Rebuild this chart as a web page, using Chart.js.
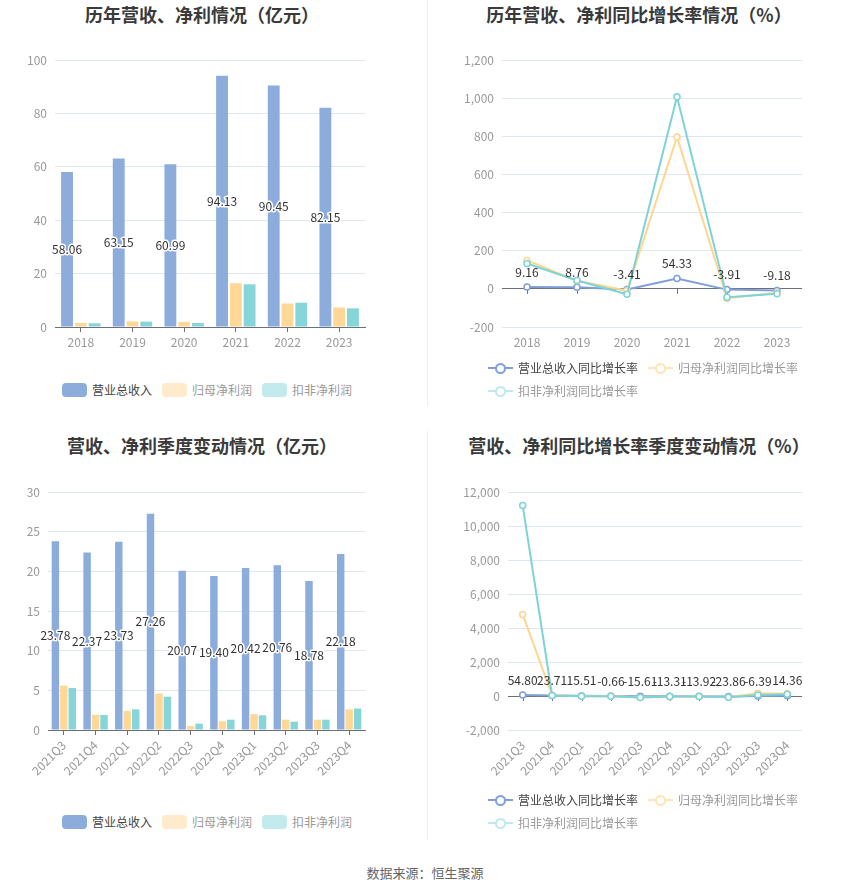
<!DOCTYPE html>
<html>
<head>
<meta charset="utf-8">
<script src="https://cdn.jsdelivr.net/npm/chart.js@4.4.0/dist/chart.umd.min.js"></script>
<style>
  body { margin:0; width:850px; height:891px; background:#fff; position:relative; overflow:hidden;
         font-family:"Noto Sans CJK SC","Noto Sans",sans-serif; }
  .title { position:absolute; font-size:18px; font-weight:bold; color:#3a3a3a; white-space:nowrap;
           transform:translate(-50%,-50%); line-height:20px; }
  canvas { position:absolute; }
  .divider { position:absolute; left:427px; width:1px; background:#eee; }
  .legend { position:absolute; display:flex; flex-wrap:wrap; font-size:12px; }
  .item { display:flex; align-items:center; height:23px; margin-right:10px; white-space:nowrap; }
  .item span.txt { margin-left:5px; line-height:14px; }
  .box { width:25px; height:14px; border-radius:4px; }
  .ln { width:25px; height:14px; position:relative; }
  .ln::before { content:''; position:absolute; left:0; top:6px; width:25px; height:2px; background:var(--c); }
  .ln::after { content:''; position:absolute; left:7px; top:2px; width:7px; height:7px; border:2px solid var(--c);
               border-radius:50%; background:#fff; }
  .source { position:absolute; left:425px; top:872px; transform:translate(-50%,-50%); font-size:13px; color:#666; }
</style>
</head>
<body>
<div class="divider" style="top:0;height:406px"></div>
<div class="divider" style="top:431px;height:409px"></div>

<div class="title" style="left:202px;top:14px">历年营收、净利情况（亿元）</div>
<div class="title" style="left:639px;top:14px">历年营收、净利同比增长率情况（%）</div>
<div class="title" style="left:202px;top:445px">营收、净利季度变动情况（亿元）</div>
<div class="title" style="left:639px;top:445px">营收、净利同比增长率季度变动情况（%）</div>

<canvas id="c1" width="425" height="325" style="left:0;top:35px"></canvas>
<canvas id="c2" width="425" height="325" style="left:425px;top:35px"></canvas>
<canvas id="c3" width="425" height="320" style="left:0;top:470px"></canvas>
<canvas id="c4" width="425" height="320" style="left:425px;top:470px"></canvas>

<div class="legend" style="left:62px;top:378px">
  <div class="item"><div class="box" style="background:#8CACDB"></div><span class="txt" style="color:#444">营业总收入</span></div>
  <div class="item"><div class="box" style="background:#FFEBCC"></div><span class="txt" style="color:#999">归母净利润</span></div>
  <div class="item"><div class="box" style="background:#C3EAEC"></div><span class="txt" style="color:#999">扣非净利润</span></div>
</div>
<div class="legend" style="left:488px;top:356px;width:330px">
  <div class="item"><div class="ln" style="--c:#7F9FDB"></div><span class="txt" style="color:#444">营业总收入同比增长率</span></div>
  <div class="item"><div class="ln" style="--c:#FFE4B8"></div><span class="txt" style="color:#999">归母净利润同比增长率</span></div>
  <div class="item"><div class="ln" style="--c:#BFE9EB"></div><span class="txt" style="color:#999">扣非净利润同比增长率</span></div>
</div>
<div class="legend" style="left:62px;top:810px">
  <div class="item"><div class="box" style="background:#8CACDB"></div><span class="txt" style="color:#444">营业总收入</span></div>
  <div class="item"><div class="box" style="background:#FFEBCC"></div><span class="txt" style="color:#999">归母净利润</span></div>
  <div class="item"><div class="box" style="background:#C3EAEC"></div><span class="txt" style="color:#999">扣非净利润</span></div>
</div>
<div class="legend" style="left:488px;top:788px;width:330px">
  <div class="item"><div class="ln" style="--c:#7F9FDB"></div><span class="txt" style="color:#444">营业总收入同比增长率</span></div>
  <div class="item"><div class="ln" style="--c:#FFE4B8"></div><span class="txt" style="color:#999">归母净利润同比增长率</span></div>
  <div class="item"><div class="ln" style="--c:#BFE9EB"></div><span class="txt" style="color:#999">扣非净利润同比增长率</span></div>
</div>

<div class="source">数据来源：恒生聚源</div>

<script>
/* ── data ── */
const years    = ['2018', '2019', '2020', '2021', '2022', '2023'];
const revYear  = [58.06, 63.15, 60.99, 94.13, 90.45, 82.15];
const netYear  = [1.5, 2.1, 1.9, 16.4, 8.8, 7.3];
const dedYear  = [1.4, 2.0, 1.5, 16.0, 9.1, 7.0];

const revYearG = [9.16, 8.76, -3.41, 54.33, -3.91, -9.18];
const netYearG = [149, 42, -10, 796, -49, -21];
const dedYearG = [133, 44, -28, 1007, -44, -26];

const quarters = ['2021Q3', '2021Q4', '2022Q1', '2022Q2', '2022Q3', '2022Q4', '2023Q1', '2023Q2', '2023Q3', '2023Q4'];
const revQ     = [23.78, 22.37, 23.73, 27.26, 20.07, 19.40, 20.42, 20.76, 18.78, 22.18];
const netQ     = [5.6, 1.9, 2.4, 4.6, 0.5, 1.1, 2.0, 1.3, 1.3, 2.6];
const dedQ     = [5.3, 1.9, 2.6, 4.2, 0.8, 1.3, 1.85, 1.05, 1.3, 2.7];

const revQG    = [54.80, 23.71, 15.51, -0.66, -15.61, -13.31, -13.92, -23.86, -6.39, 14.36];
const netQG    = [4800, 45, -20, 5, -91, -42, -17, -72, 160, 136];
const dedQG    = [11200, 30, -10, -20, -85, -32, -29, -75, 62, 108];

/* ── styling ── */
const FONT = '"Noto Sans CJK SC", "Noto Sans", sans-serif';
const GRID = '#E0E6F1', AXIS = '#6E7079', LABEL = '#999';
const C_REV = '#8CACDB', C_NET = '#FFD797', C_DED = '#86D5D8';
const L_REV = '#7F9FDB', L_NET = '#FFD58F', L_DED = '#7DD3D6';

/* value labels on the first series */
const valueLabels = {
  id: 'valueLabels',
  afterDatasetsDraw(chart, args, opts) {
    if (!opts || !opts.mode) return;
    const meta = chart.getDatasetMeta(0);
    const data = chart.data.datasets[0].data;
    const ctx  = chart.ctx;
    ctx.save();
    ctx.font = '12px ' + FONT;
    ctx.textAlign = 'center';
    ctx.textBaseline = 'middle';
    meta.data.forEach((el, i) => {
      const txt = data[i].toFixed(2);
      if (opts.mode === 'middle') {
        const y = (el.y + el.base) / 2;
        ctx.lineWidth = 3; ctx.lineJoin = 'round'; ctx.strokeStyle = '#fff';
        ctx.strokeText(txt, el.x, y);
        ctx.fillStyle = '#333';
        ctx.fillText(txt, el.x, y);
      } else {
        ctx.fillStyle = '#333';
        ctx.fillText(txt, el.x, el.y - 15);
      }
    });
    ctx.restore();
  }
};

/* small tick marks hanging off the zero line */
const zeroTicks = {
  id: 'zeroTicks',
  beforeDatasetsDraw(chart, args, opts) {
    if (!opts || !opts.on) return;
    const x = chart.scales.x, y0 = chart.scales.y.getPixelForValue(0);
    const ctx = chart.ctx;
    ctx.save();
    ctx.strokeStyle = AXIS; ctx.lineWidth = 1;
    x.ticks.forEach((t, i) => {
      const px = Math.round(x.getPixelForTick(i)) + 0.5;
      ctx.beginPath(); ctx.moveTo(px, y0); ctx.lineTo(px, y0 + 5); ctx.stroke();
    });
    ctx.restore();
  }
};
Chart.register(valueLabels, zeroTicks);

function opts(box, yr, labelMode) {
  return {
    responsive: false, animation: false,
    layout: { padding: { top: box.top, right: box.right, left: 0, bottom: 0 } },
    plugins: {
      legend: { display: false }, tooltip: { enabled: false },
      valueLabels: { mode: labelMode },
      zeroTicks: { on: !!box.zeroMid }
    },
    scales: {
      x: {
        offset: true,
        grid: { offset: false, drawOnChartArea: false, tickLength: 5, color: box.zeroMid ? 'rgba(0,0,0,0)' : AXIS },
        border: { display: !box.zeroMid, color: AXIS },
        ticks: { color: LABEL, font: { size: 12, family: FONT }, padding: 3,
                 autoSkip: false, maxRotation: box.rot, minRotation: box.rot },
        afterFit: s => { s.height = box.xh; }
      },
      y: {
        min: yr[0], max: yr[1],
        ticks: { stepSize: yr[2], color: LABEL, font: { size: 12, family: FONT }, padding: 8 },
        grid: { drawTicks: false, color: c => (c.tick && c.tick.value === 0) ? AXIS : GRID },
        border: { display: false },
        afterFit: s => { s.width = box.yw; }
      }
    }
  };
}

function bars(labels, a, b, c, catPct, barPct) {
  const mk = (data, color) => ({ data, backgroundColor: color, categoryPercentage: catPct, barPercentage: barPct });
  return { labels, datasets: [mk(a, C_REV), mk(b, C_NET), mk(c, C_DED)] };
}

function lines(labels, a, b, c) {
  const mk = (data, color, order) => ({
    data, borderColor: color, borderWidth: 2, tension: 0, order,
    pointRadius: 3, pointBorderWidth: 1.5, pointBackgroundColor: '#fff', pointBorderColor: color
  });
  return { labels, datasets: [mk(a, L_REV, 2), mk(b, L_NET, 1), mk(c, L_DED, 0)] };
}

new Chart(document.getElementById('c1'), {
  type: 'bar',
  data: bars(years, revYear, netYear, dedYear, 0.8, 0.86),
  options: opts({ top: 25, right: 60, yw: 55, xh: 33, rot: 0 }, [0, 100, 20], 'middle')
});

new Chart(document.getElementById('c2'), {
  type: 'line',
  data: lines(years, revYearG, netYearG, dedYearG),
  options: opts({ top: 25, right: 48, yw: 77, xh: 33, rot: 0, zeroMid: true }, [-200, 1200, 200], 'above')
});

new Chart(document.getElementById('c3'), {
  type: 'bar',
  data: bars(quarters, revQ, netQ, dedQ, 0.8, 0.88),
  options: opts({ top: 22, right: 60, yw: 48, xh: 60, rot: 45 }, [0, 30, 5], 'middle')
});

new Chart(document.getElementById('c4'), {
  type: 'line',
  data: lines(quarters, revQG, netQG, dedQG),
  options: opts({ top: 22, right: 48, yw: 83, xh: 60, rot: 45, zeroMid: true }, [-2000, 12000, 2000], 'above')
});
</script>
</body>
</html>
